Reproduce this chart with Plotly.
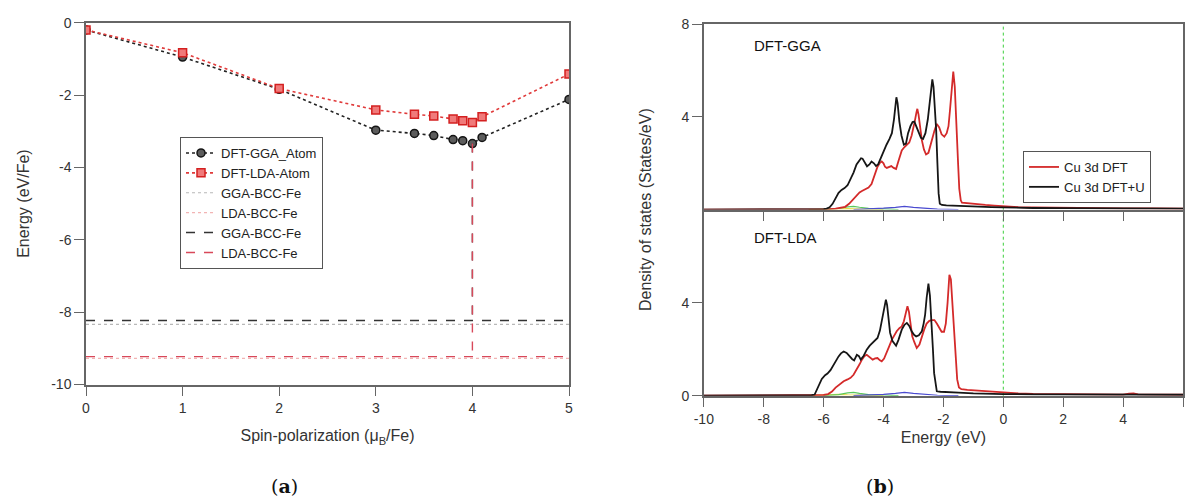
import numpy as np
import plotly.graph_objects as go

# ---------------- (a) data ----------------
spin = [0, 1, 2, 3, 3.4, 3.6, 3.8, 3.9, 4.0, 4.1, 5]
gga_atom = [-0.20, -0.95, -1.84, -2.97, -3.06, -3.12, -3.23, -3.26, -3.34, -3.17, -2.12]
lda_atom = [-0.20, -0.83, -1.82, -2.41, -2.53, -2.58, -2.66, -2.71, -2.76, -2.60, -1.42]
gga_bcc_ref = -8.34
lda_bcc_ref = -9.28
gga_bcc = -8.23
lda_bcc = -9.23
spin_ticks = [0, 1, 2, 3, 4, 5]
energy_ticks = [0, -2, -4, -6, -8, -10]

# ---------------- (b) data ----------------
# DFT-GGA panel
gga_u_E = [-10, -7, -6.2, -6.0, -5.9, -5.8, -5.7, -5.6, -5.5, -5.4, -5.3, -5.2, -5.1, -5.0, -4.9,
           -4.8, -4.75, -4.7, -4.6, -4.55, -4.47, -4.4, -4.32, -4.25, -4.18, -4.1, -4.0, -3.9, -3.8, -3.72,
           -3.65, -3.6, -3.57, -3.53, -3.47, -3.4, -3.32, -3.25, -3.18, -3.1, -3.03, -2.97, -2.9, -2.83, -2.75,
           -2.68, -2.6, -2.52, -2.46, -2.41, -2.37, -2.33, -2.28, -2.24, -2.2, -2.16, -2.12, -2.05, -1.9, -1.6,
           -1.2, -0.8, -0.4, 0, 0.5, 1, 2, 3, 4, 5, 6]
gga_u_dos = [0, 0, 0.01, 0.02, 0.04, 0.1, 0.25, 0.5, 0.72, 0.85, 0.93, 1.05, 1.3, 1.6, 1.95,
             2.15, 2.22, 2.2, 2.0, 1.87, 1.95, 2.08, 2.0, 1.88, 1.95, 2.2, 2.5, 2.8, 3.05, 3.3,
             3.9, 4.6, 4.85, 4.6, 3.8, 3.2, 2.8, 2.85, 3.3, 3.6, 3.78, 3.8, 3.55, 3.3, 3.1,
             3.05, 3.3, 3.9, 4.7, 5.4, 5.62, 5.3, 4.3, 3.4, 2.0, 0.7, 0.25, 0.2, 0.18, 0.16,
             0.15, 0.13, 0.11, 0.1, 0.08, 0.07, 0.06, 0.05, 0.05, 0.05, 0.04]
gga_E = [-10, -7, -6, -5.8, -5.6, -5.45, -5.28, -5.15, -5.06, -4.95, -4.89, -4.8, -4.72, -4.6, -4.5,
         -4.4, -4.33, -4.25, -4.2, -4.12, -4.06, -4.0, -3.95, -3.89, -3.8, -3.74, -3.66, -3.58, -3.5, -3.39,
         -3.3, -3.22, -3.14, -3.06, -3.0, -2.95, -2.9, -2.87, -2.83, -2.78, -2.72, -2.65, -2.58, -2.5, -2.45,
         -2.39, -2.3, -2.22, -2.14, -2.06, -1.97, -1.89, -1.83, -1.78, -1.72, -1.67, -1.62, -1.56, -1.51, -1.47,
         -1.42, -1.38, -1.2, -0.9, -0.6, -0.3, 0, 0.5, 1, 1.5, 2, 3, 4, 5, 6]
gga_dos = [0, 0, 0.01, 0.02, 0.04, 0.07, 0.12, 0.25, 0.38, 0.55, 0.64, 0.74, 0.8, 0.87, 0.95,
           1.1, 1.35, 1.65, 1.85, 2.02, 2.08, 2.0, 1.85, 1.8, 1.85, 1.88, 1.8, 1.75, 2.1, 2.55,
           2.7, 2.78, 2.9, 3.2, 3.5, 3.85, 4.2, 4.35, 4.1, 3.5, 3.0, 2.6, 2.38, 2.45, 2.7,
           3.0, 3.4, 3.7, 3.55, 3.25, 3.15, 3.3, 3.6, 4.3, 5.3, 5.96, 5.3, 3.8, 2.0, 0.9,
           0.4, 0.3, 0.27, 0.24, 0.2, 0.17, 0.14, 0.11, 0.09, 0.08, 0.07, 0.06, 0.05, 0.05, 0.04]
# DFT-LDA panel
lda_u_E = [-10, -7.5, -6.6, -6.4, -6.3, -6.22, -6.14, -6.06, -5.95, -5.87, -5.77, -5.67, -5.58, -5.5, -5.42,
           -5.33, -5.23, -5.13, -5.05, -4.98, -4.89, -4.82, -4.76, -4.66, -4.56, -4.46, -4.36, -4.28, -4.2, -4.12,
           -4.06, -4.0, -3.95, -3.92, -3.88, -3.83, -3.78, -3.7, -3.62, -3.58, -3.5, -3.39, -3.3, -3.22, -3.14,
           -3.06, -2.98, -2.91, -2.82, -2.72, -2.66, -2.61, -2.56, -2.5, -2.45, -2.39, -2.35, -2.31, -2.26, -2.22,
           -2.1, -1.9, -1.5, -1.0, -0.5, 0, 1, 2, 3, 4, 5, 6]
lda_u_dos = [0, 0, 0.01, 0.02, 0.05, 0.26, 0.5, 0.72, 0.88, 0.95, 1.1, 1.33, 1.5, 1.69, 1.82,
             1.9, 1.84, 1.69, 1.58, 1.52, 1.76, 1.7, 1.55, 1.72, 1.98, 2.15, 2.27, 2.38, 2.48, 2.8,
             3.2, 3.7, 4.05, 4.13, 3.9, 3.3, 2.7, 2.35, 2.2, 2.15, 2.4, 2.84, 3.05, 3.13, 3.0,
             2.77, 2.62, 2.55, 2.6, 2.77, 3.1, 3.48, 4.2, 4.82, 4.3, 3.13, 2.0, 0.97, 0.4, 0.19,
             0.17, 0.15, 0.13, 0.1, 0.08, 0.07, 0.06, 0.05, 0.05, 0.04, 0.04, 0.04]
lda_E = [-10, -7, -6.2, -6.0, -5.85, -5.72, -5.6, -5.45, -5.33, -5.2, -5.1, -5.0, -4.89, -4.8, -4.72,
         -4.64, -4.56, -4.46, -4.36, -4.28, -4.2, -4.12, -4.06, -3.98, -3.89, -3.8, -3.72, -3.64, -3.56, -3.47,
         -3.39, -3.32, -3.26, -3.2, -3.15, -3.1, -3.04, -2.97, -2.89, -2.8, -2.72, -2.64, -2.56, -2.47, -2.39,
         -2.3, -2.22, -2.14, -2.06, -1.98, -1.92, -1.86, -1.8, -1.75, -1.7, -1.64, -1.59, -1.54, -1.48, -1.4,
         -1.2, -0.9, -0.6, -0.3, 0, 0.5, 1, 1.5, 2, 3, 4, 4.2, 4.35, 4.5, 5, 6]
lda_dos = [0, 0, 0.01, 0.03, 0.07, 0.18, 0.35, 0.5, 0.62, 0.7, 0.77, 0.9, 1.12, 1.35, 1.55,
           1.7, 1.76, 1.65, 1.55, 1.6, 1.62, 1.52, 1.48, 1.6, 1.84, 2.15, 2.41, 2.6, 2.77, 2.9,
           2.98, 3.2, 3.55, 3.85, 3.6, 3.0, 2.55, 2.3, 2.05, 2.2, 2.55, 2.85, 3.1, 3.22, 3.25,
           3.25, 3.1, 2.9, 2.75, 2.75, 3.1, 4.0, 5.2, 5.0, 4.0, 2.6, 1.5, 0.7, 0.35, 0.28,
           0.25, 0.22, 0.18, 0.15, 0.12, 0.1, 0.08, 0.07, 0.06, 0.05, 0.05, 0.09, 0.1, 0.06, 0.05, 0.04]
# minor projected components (faint)
yel_E = [-6.5, -6.0, -5.7, -5.5, -5.2, -4.8, -4.0]
yel_dos = [0, 0.02, 0.05, 0.06, 0.04, 0.02, 0]
grn_E = [-6.0, -5.5, -5.2, -5.0, -4.8, -4.5, -4.0, -3.5]
grn_dos = [0, 0.05, 0.12, 0.14, 0.1, 0.05, 0.03, 0]
blu_E = [-5.0, -4.5, -4.0, -3.6, -3.3, -3.0, -2.6, -2.2, -1.5]
blu_dos = [0, 0.02, 0.06, 0.1, 0.14, 0.1, 0.06, 0.02, 0]
fermi_level = 0.0
dos_top_ticks = [4, 8]
dos_bot_ticks = [0, 4]
dos_x_ticks = [-10, -8, -6, -4, -2, 0, 2, 4, 6]

W, H = 1187, 501
FONT = "Liberation Sans, Arial, Helvetica, sans-serif"
AX = "#666666"
TXT = "#333333"

def px_x(p):
    return p / W

def px_y(p):
    return 1 - p / H

def labels(vals):
    return [("%g" % v) for v in vals]   # ASCII hyphen-minus, as in the reference

fig = go.Figure()

# ---------- (a) traces ----------
fig.add_trace(go.Scatter(
    x=spin, y=gga_atom, mode="lines+markers", name="DFT-GGA_Atom",
    line=dict(color="#222222", dash="dot", width=1.6),
    marker=dict(symbol="circle", size=8, color="#5c5c5c", line=dict(color="#151515", width=1.5)),
    xaxis="x", yaxis="y", legend="legend"))
fig.add_trace(go.Scatter(
    x=spin, y=lda_atom, mode="lines+markers", name="DFT-LDA-Atom",
    line=dict(color="#e03a3a", dash="dot", width=1.6),
    marker=dict(symbol="square", size=8, color="#f07a7a", line=dict(color="#d42020", width=1.5)),
    xaxis="x", yaxis="y", legend="legend"))

x0, x1 = spin[0], spin[-1]
i_min = int(np.argmin(gga_atom))
x_drop, y_drop = spin[i_min], gga_atom[i_min]

fig.add_trace(go.Scatter(
    x=[x0, x1], y=[gga_bcc_ref, gga_bcc_ref], mode="lines", name="GGA-BCC-Fe",
    line=dict(color="#b8b8b8", dash="dot", width=1.2), xaxis="x", yaxis="y", legend="legend"))
fig.add_trace(go.Scatter(
    x=[x0, x1], y=[lda_bcc_ref, lda_bcc_ref], mode="lines", name="LDA-BCC-Fe",
    line=dict(color="#f2b4b4", dash="dot", width=1.2), xaxis="x", yaxis="y", legend="legend"))
fig.add_trace(go.Scatter(
    x=[x0, x1, None, x_drop, x_drop], y=[gga_bcc, gga_bcc, None, y_drop, gga_bcc], mode="lines",
    name="GGA-BCC-Fe", line=dict(color="#333333", dash="dash", width=1.4),
    xaxis="x", yaxis="y", legend="legend"))
fig.add_trace(go.Scatter(
    x=[x0, x1, None, x_drop, x_drop], y=[lda_bcc, lda_bcc, None, y_drop, lda_bcc], mode="lines",
    name="LDA-BCC-Fe", line=dict(color="#d8485a", dash="dash", width=1.4),
    xaxis="x", yaxis="y", legend="legend"))

# ---------- (b) traces ----------
for xa, ya, dE, dv, uE, uv, show in [("x2", "y2", gga_E, gga_dos, gga_u_E, gga_u_dos, True),
                                    ("x3", "y3", lda_E, lda_dos, lda_u_E, lda_u_dos, False)]:
    for e, v, c in [(yel_E, yel_dos, "#e8d84a"), (grn_E, grn_dos, "#5cc85c"), (blu_E, blu_dos, "#4a4ad0")]:
        fig.add_trace(go.Scatter(x=e, y=v, mode="lines", line=dict(color=c, width=1.2),
                                 showlegend=False, xaxis=xa, yaxis=ya, hoverinfo="skip"))
    fig.add_trace(go.Scatter(x=dE, y=dv, mode="lines", name="Cu 3d DFT",
                             line=dict(color="#d42a2a", width=1.8),
                             showlegend=show, xaxis=xa, yaxis=ya, legend="legend2"))
    fig.add_trace(go.Scatter(x=uE, y=uv, mode="lines", name="Cu 3d DFT+U",
                             line=dict(color="#161616", width=1.8),
                             showlegend=show, xaxis=xa, yaxis=ya, legend="legend2"))

# Fermi level markers
for xa, ya in [("x2", "y2"), ("x3", "y3")]:
    fig.add_shape(type="line", xref=xa, yref=ya + " domain", x0=fermi_level, x1=fermi_level,
                  y0=0, y1=1, line=dict(color="#3ccf3c", width=1, dash="dot"), layer="below")

axis_common = dict(showgrid=False, zeroline=False, showline=True, linecolor=AX, linewidth=1.5,
                   ticks="outside", ticklen=10, tickwidth=1.3, tickcolor=AX, automargin=False,
                   tickfont=dict(family=FONT, size=14, color=TXT))

left_dom_x = [px_x(86), px_x(569)]
left_dom_y = [px_y(384.5), px_y(22.7)]
right_dom_x = [px_x(703.8), px_x(1183)]
split = px_y(209.6)
top_dom_y = [split, px_y(24.3)]
bot_dom_y = [px_y(395.7), split]

fig.update_layout(
    width=W, height=H,
    margin=dict(l=0, r=0, t=0, b=0, pad=0),
    paper_bgcolor="white", plot_bgcolor="white",
    font=dict(family=FONT, color=TXT),
    xaxis=dict(axis_common, domain=left_dom_x, anchor="y", range=[x0, x1],
               tickvals=spin_ticks, ticktext=labels(spin_ticks), mirror=True,
               title=dict(text="Spin-polarization (μ<sub>B</sub>/Fe)", font=dict(size=16, color=TXT), standoff=15)),
    yaxis=dict(axis_common, domain=left_dom_y, anchor="x", range=[-10, 0],
               tickvals=energy_ticks, ticktext=labels(energy_ticks), mirror=True,
               title=dict(text="Energy (eV/Fe)", font=dict(size=16, color=TXT), standoff=18)),
    xaxis2=dict(axis_common, domain=right_dom_x, anchor="y2", range=[-10, 6], tickvals=dos_x_ticks,
                showticklabels=False, mirror=True),
    yaxis2=dict(axis_common, domain=top_dom_y, anchor="x2", range=[0, 8],
                tickvals=dos_top_ticks, ticktext=labels(dos_top_ticks), mirror=True),
    xaxis3=dict(axis_common, domain=right_dom_x, anchor="y3", range=[-10, 6],
                tickvals=dos_x_ticks, ticktext=labels(dos_x_ticks),
                title=dict(text="Energy (eV)", font=dict(size=16, color=TXT), standoff=6)),
    yaxis3=dict(axis_common, domain=bot_dom_y, anchor="x3", range=[0, 8],
                tickvals=dos_bot_ticks, ticktext=labels(dos_bot_ticks), mirror=True),
    legend=dict(x=px_x(180), y=px_y(137), xanchor="left", yanchor="top",
                bordercolor="#555555", borderwidth=1, bgcolor="white",
                font=dict(family=FONT, size=13, color="#222222"), itemwidth=30),
    legend2=dict(x=px_x(1023), y=px_y(151), xanchor="left", yanchor="top",
                 bordercolor="#555555", borderwidth=1, bgcolor="white",
                 font=dict(family=FONT, size=13, color="#222222"), itemwidth=30),
    annotations=[
        dict(text="Density of states (States/eV)", xref="paper", yref="paper",
             x=px_x(645), y=px_y(210), xanchor="center", yanchor="middle", textangle=-90,
             showarrow=False, font=dict(family=FONT, size=16, color=TXT)),
        dict(text="DFT-GGA", xref="x2", yref="y2", x=-8.4, y=7.08, xanchor="left", yanchor="middle",
             showarrow=False, font=dict(family=FONT, size=15, color="#111111")),
        dict(text="DFT-LDA", xref="x3", yref="y3", x=-8.4, y=6.81, xanchor="left", yanchor="middle",
             showarrow=False, font=dict(family=FONT, size=15, color="#111111")),
        dict(text="(<b>a</b>)", xref="paper", yref="paper", x=px_x(284), y=px_y(486),
             xanchor="center", yanchor="middle",
             showarrow=False, font=dict(family="DejaVu Serif, serif", size=19, color="#111111")),
        dict(text="(<b>b</b>)", xref="paper", yref="paper", x=px_x(880), y=px_y(486),
             xanchor="center", yanchor="middle",
             showarrow=False, font=dict(family="DejaVu Serif, serif", size=19, color="#111111")),
    ],
)

fig.write_html(
    "out.html",
    config={"displayModeBar": False},
    post_script="document.documentElement.style.margin='0';document.body.style.margin='0';"
                "document.body.style.overflow='hidden';",
)
